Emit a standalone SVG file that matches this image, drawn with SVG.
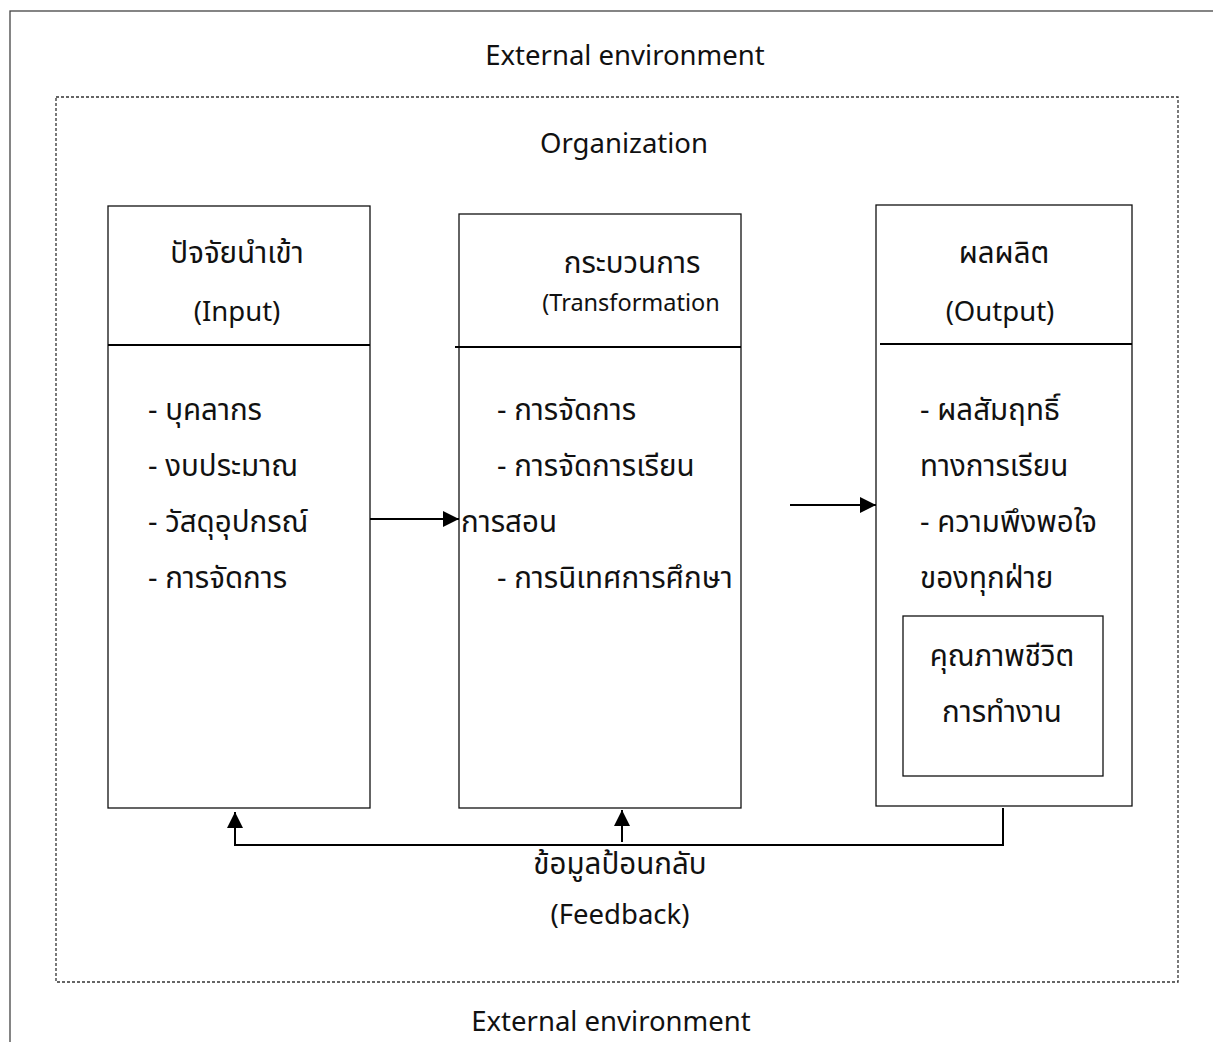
<svg xmlns="http://www.w3.org/2000/svg" width="1213" height="1042" viewBox="0 0 1213 1042">
<defs>
<style>
text{font-family:"Noto Sans","Noto Sans Thai","Open Sans",sans-serif;font-size:29.5px;fill:#111}
.en{font-size:27.5px}
.c{text-anchor:middle}
.box{fill:none;stroke:#111;stroke-width:1.3}
.hdr{stroke:#000;stroke-width:2}
.ln{fill:none;stroke:#000;stroke-width:2}
</style>
<marker id="ah" viewBox="0 0 10 10" refX="10" refY="5" markerWidth="16" markerHeight="16" markerUnits="userSpaceOnUse" orient="auto"><path d="M0,0 L10,5 L0,10 z" fill="#000"/></marker>
</defs>
<rect width="1213" height="1042" fill="#fff"/>
<g id="environment">
<rect x="10" y="11" width="1215" height="1045" fill="none" stroke="#444" stroke-width="1.3"/>
<text class="c en" x="625" y="65">External environment</text>
<text class="c en" x="611" y="1031">External environment</text>
</g>
<g id="organization">
<rect x="56" y="97" width="1122" height="885" fill="none" stroke="#333" stroke-width="1.3" stroke-dasharray="3,2"/>
<text class="c en" x="624" y="153">Organization</text>
</g>
<g id="input">
<rect class="box" x="108" y="206" width="262" height="602"/>
<line class="hdr" x1="108" y1="345" x2="370" y2="345"/>
<text class="c" x="237" y="263">ปัจจัยนำเข้า</text>
<text class="c en" x="237" y="321">(Input)</text>
<text x="148" y="420">- บุคลากร</text>
<text x="148" y="476">- งบประมาณ</text>
<text x="148" y="532">- วัสดุอุปกรณ์</text>
<text x="148" y="588">- การจัดการ</text>
</g>
<g id="transformation">
<rect class="box" x="459" y="214" width="282" height="594"/>
<line class="hdr" x1="455" y1="347" x2="741" y2="347"/>
<text class="c" x="632" y="273">กระบวนการ</text>
<text class="c en" x="631" y="311" style="font-size:23.5px">(Transformation</text>
<text x="497" y="420">- การจัดการ</text>
<text x="497" y="476">- การจัดการเรียน</text>
<text x="461" y="532">การสอน</text>
<text x="497" y="588">- การนิเทศการศึกษา</text>
</g>
<g id="output">
<rect class="box" x="876" y="205" width="256" height="601"/>
<line class="hdr" x1="880" y1="344" x2="1132" y2="344"/>
<text class="c" x="1004" y="263">ผลผลิต</text>
<text class="c en" x="1000" y="321">(Output)</text>
<text x="920" y="420">- ผลสัมฤทธิ์</text>
<text x="920" y="476">ทางการเรียน</text>
<text x="920" y="532">- ความพึงพอใจ</text>
<text x="920" y="588">ของทุกฝ่าย</text>
</g>
<g id="quality">
<rect class="box" x="903" y="616" width="200" height="160"/>
<text class="c" x="1002" y="666">คุณภาพชีวิต</text>
<text class="c" x="1002" y="722">การทำงาน</text>
</g>
<g id="feedback-label">
<text class="c" x="620" y="874">ข้อมูลป้อนกลับ</text>
<text class="c en" x="620" y="924">(Feedback)</text>
</g>
<g id="connectors">
<line class="ln" x1="370" y1="519" x2="459" y2="519" marker-end="url(#ah)"/>
<line class="ln" x1="790" y1="505" x2="876" y2="505" marker-end="url(#ah)"/>
<polyline class="ln" points="1003,808 1003,845 235,845 235,812" marker-end="url(#ah)"/>
<line class="ln" x1="622" y1="842" x2="622" y2="810" marker-end="url(#ah)"/>
</g>
</svg>
